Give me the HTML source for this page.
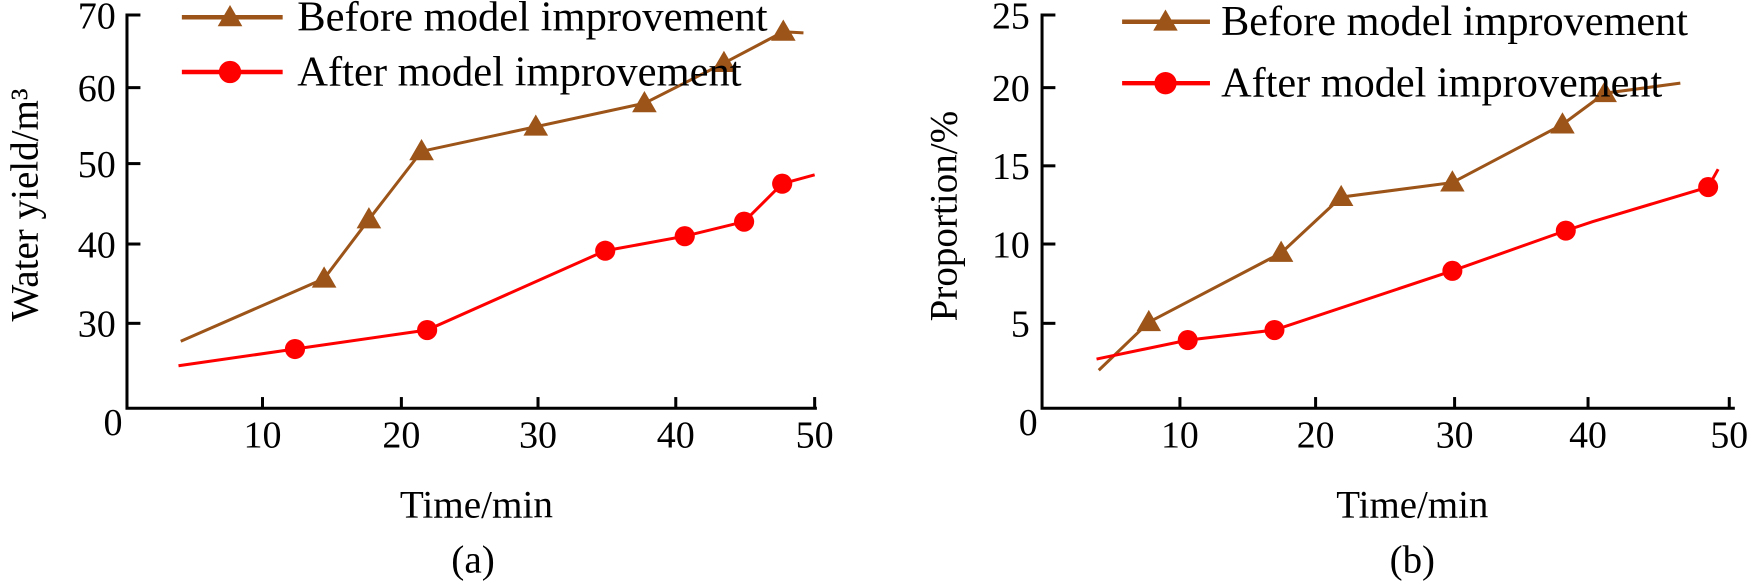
<!DOCTYPE html><html><head><style>body{margin:0;background:#fff}svg{display:block}text{font-family:"Liberation Serif",serif;fill:#000}</style></head><body>
<svg width="1750" height="587" xmlns="http://www.w3.org/2000/svg">
<defs>
<symbol id="tri" viewBox="-11 -11 22 22" overflow="visible"><polygon points="0,-11 11,8 -11,8" fill="#9C5418"/></symbol>
</defs>
<g font-size="34">
<!-- chart a -->
<g transform="matrix(1.12 0 0 1.117 -0.7 -7.3)">
<g stroke="#000" stroke-width="2.7" fill="none">
<polyline points="126,20 114,20 114,372 730,372"/>
<line x1="114" y1="85" x2="126" y2="85"/><line x1="114" y1="153" x2="126" y2="153"/><line x1="114" y1="225" x2="126" y2="225"/><line x1="114" y1="296" x2="126" y2="296"/>
<line x1="235" y1="372" x2="235" y2="362"/><line x1="359" y1="372" x2="359" y2="362"/><line x1="481" y1="372" x2="481" y2="362"/><line x1="604" y1="372" x2="604" y2="362"/><line x1="728" y1="372" x2="728" y2="362"/>
</g>
<g text-anchor="end"><text x="104" y="32">70</text><text x="104" y="97">60</text><text x="104" y="165">50</text><text x="104" y="237">40</text><text x="104" y="308">30</text><text x="110" y="396">0</text></g>
<g text-anchor="middle"><text x="235" y="407">10</text><text x="359" y="407">20</text><text x="481" y="407">30</text><text x="604" y="407">40</text><text x="728" y="407">50</text>
<text x="426" y="470" font-size="35">Time/min</text><text x="423" y="519" font-size="35">(a)</text>
<text transform="translate(34,190) rotate(-90)" font-size="35">Water yield/m³</text></g>
<polyline points="162,312 290,256 330,203 377,142 479,120 576,99 647,63 700,35 718,36" fill="none" stroke="#9C5418" stroke-width="2.7"/>
<polyline points="160,334 264,319 382,302 541,231 612,218 665,205 699,171 728,163" fill="none" stroke="#FF0000" stroke-width="2.7"/>
<g fill="#FF0000"><circle cx="264" cy="319" r="9"/><circle cx="382" cy="302" r="9"/><circle cx="541" cy="231" r="9"/><circle cx="612" cy="218" r="9"/><circle cx="665" cy="205" r="9"/><circle cx="699" cy="171" r="9"/></g>
<g><use href="#tri" x="279" y="245" width="22" height="22"/><use href="#tri" x="319" y="192" width="22" height="22"/><use href="#tri" x="366" y="131" width="22" height="22"/><use href="#tri" x="468" y="109" width="22" height="22"/><use href="#tri" x="565" y="88" width="22" height="22"/><use href="#tri" x="636" y="52" width="22" height="22"/><use href="#tri" x="689" y="24" width="22" height="22"/></g>
<line x1="163" y1="22" x2="253" y2="22" stroke="#9C5418" stroke-width="4"/><use href="#tri" x="195" y="11" width="22" height="22"/>
<text x="266" y="34" font-size="38">Before model improvement</text>
<line x1="163" y1="71" x2="253" y2="71" stroke="#FF0000" stroke-width="4"/><circle cx="206" cy="71" r="10" fill="#FF0000"/>
<text x="266" y="83" font-size="38">After model improvement</text>
</g>
<!-- chart b -->
<g transform="matrix(1.112 0 0 1.117 9 -7.3)">
<g stroke="#000" stroke-width="2.7" fill="none">
<polyline points="941,20 929,20 929,372 1552,372"/>
<line x1="929" y1="85" x2="941" y2="85"/><line x1="929" y1="155" x2="941" y2="155"/><line x1="929" y1="225" x2="941" y2="225"/><line x1="929" y1="296" x2="941" y2="296"/>
<line x1="1053" y1="372" x2="1053" y2="362"/><line x1="1175" y1="372" x2="1175" y2="362"/><line x1="1300" y1="372" x2="1300" y2="362"/><line x1="1420" y1="372" x2="1420" y2="362"/><line x1="1547" y1="372" x2="1547" y2="362"/>
</g>
<g text-anchor="end"><text x="918" y="32">25</text><text x="918" y="97">20</text><text x="918" y="167">15</text><text x="918" y="237">10</text><text x="918" y="308">5</text><text x="925" y="396">0</text></g>
<g text-anchor="middle"><text x="1053" y="407">10</text><text x="1175" y="407">20</text><text x="1300" y="407">30</text><text x="1420" y="407">40</text><text x="1547" y="407">50</text>
<text x="1262" y="470" font-size="35">Time/min</text><text x="1262" y="519" font-size="35">(b)</text>
<text transform="translate(852,200) rotate(-90)" font-size="35">Proportion/%</text></g>
<polyline points="980,338 1025,295 1144,233 1198,183 1298,170 1397,118 1435,90 1503,81" fill="none" stroke="#9C5418" stroke-width="2.7"/>
<polyline points="978,328 1060,311 1138,302 1298,249 1400,213 1424,205 1528,174 1537,158" fill="none" stroke="#FF0000" stroke-width="2.7"/>
<g fill="#FF0000"><circle cx="1060" cy="311" r="9"/><circle cx="1138" cy="302" r="9"/><circle cx="1298" cy="249" r="9"/><circle cx="1400" cy="213" r="9"/><circle cx="1528" cy="174" r="9"/></g>
<g><use href="#tri" x="1014" y="284" width="22" height="22"/><use href="#tri" x="1133" y="222" width="22" height="22"/><use href="#tri" x="1187" y="172" width="22" height="22"/><use href="#tri" x="1287" y="159" width="22" height="22"/><use href="#tri" x="1386" y="107" width="22" height="22"/><use href="#tri" x="1424" y="79" width="22" height="22"/></g>
<line x1="1001" y1="26" x2="1080" y2="26" stroke="#9C5418" stroke-width="4"/><use href="#tri" x="1029" y="15" width="22" height="22"/>
<text x="1090" y="38" font-size="38">Before model improvement</text>
<line x1="1001" y1="81" x2="1080" y2="81" stroke="#FF0000" stroke-width="4"/><circle cx="1040" cy="81" r="10" fill="#FF0000"/>
<text x="1090" y="93" font-size="38">After model improvement</text>
</g>
</g>
</svg>
</body></html>
